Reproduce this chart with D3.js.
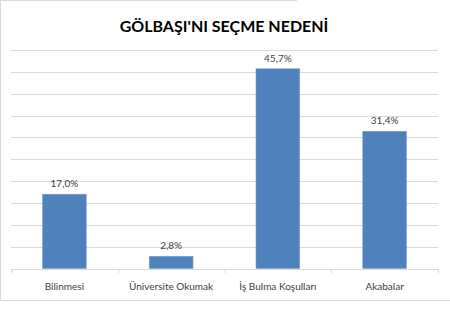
<!DOCTYPE html>
<meta charset="utf-8">
<html lang="tr">
<head>
<script src="https://d3js.org/d3.v7.min.js"></script>
<style>
  body { margin: 0; background: #fff; }
  text { font-family: Lato, "Liberation Sans", sans-serif; }
</style>
</head>
<body>
<div id="chart"></div>
<script>
// data
var categories = ["Bilinmesi", "Üniversite Okumak", "İş Bulma Koşulları", "Akabalar"];
var values = [17.0, 2.8, 45.7, 31.4];
var valueLabels = ["17,0%", "2,8%", "45,7%", "31,4%"];
var gridTicks = [0, 5, 10, 15, 20, 25, 30, 35, 40, 45, 50];

var width = 450, height = 315;
var margin = {top: 50, right: 12, bottom: 46.5, left: 11};

var svg = d3.select("#chart").append("svg")
  .attr("width", width)
  .attr("height", height);

// outer chart border (only partly visible in the original)
svg.append("line").attr("x1", 0.5).attr("x2", 0.5).attr("y1", 0).attr("y2", 300.5)
  .attr("stroke", "#d9d9d9");
svg.append("line").attr("x1", 0).attr("x2", 450).attr("y1", 300.5).attr("y2", 300.5)
  .attr("stroke", "#d9d9d9");
svg.append("line").attr("x1", 0).attr("x2", 297).attr("y1", 0.5).attr("y2", 0.5)
  .attr("stroke", "#d9d9d9");

var x = d3.scaleBand()
  .domain(categories)
  .range([margin.left, width - margin.right])
  .paddingInner(0.59)
  .paddingOuter(0.295);

var xAxisScale = d3.scaleBand()
  .domain(categories)
  .range([margin.left, width - margin.right]);

var y = d3.scaleLinear()
  .domain([0, 50])
  .range([height - margin.bottom, margin.top]);

// gridlines
svg.append("g").selectAll("line")
  .data(gridTicks)
  .enter().append("line")
  .attr("x1", margin.left)
  .attr("x2", width - margin.right)
  .attr("y1", function (d) { return Math.round(y(d)) + 0.5; })
  .attr("y2", function (d) { return Math.round(y(d)) + 0.5; })
  .attr("stroke", "#d9d9d9")
  .attr("stroke-width", 1);

// category tick marks
var tickX = categories.map(function (c) { return xAxisScale(c); }).concat([width - margin.right]);
svg.append("g").selectAll("line")
  .data(tickX)
  .enter().append("line")
  .attr("x1", function (d) { return Math.round(d) + 0.5; })
  .attr("x2", function (d) { return Math.round(d) + 0.5; })
  .attr("y1", Math.round(y(0)))
  .attr("y2", Math.round(y(0)) + 4)
  .attr("stroke", "#d9d9d9");

// bars
svg.append("g").selectAll("rect")
  .data(values)
  .enter().append("rect")
  .attr("x", function (d, i) { return x(categories[i]); })
  .attr("y", function (d) { return y(d); })
  .attr("width", x.bandwidth())
  .attr("height", function (d) { return y(0) - y(d); })
  .attr("fill", "#4f81bd")
  .attr("stroke", "#7ea3d1")
  .attr("stroke-width", 0.6);

// value labels
svg.append("g").selectAll("text")
  .data(values)
  .enter().append("text")
  .attr("x", function (d, i) { return x(categories[i]) + x.bandwidth() / 2; })
  .attr("y", function (d) { return y(d) - 7; })
  .attr("text-anchor", "middle")
  .attr("font-size", "10px")
  .attr("fill", "#404040")
  .text(function (d, i) { return valueLabels[i]; });

// category labels
svg.append("g").selectAll("text")
  .data(categories)
  .enter().append("text")
  .attr("x", function (d) { return xAxisScale(d) + xAxisScale.bandwidth() / 2; })
  .attr("y", 290)
  .attr("text-anchor", "middle")
  .attr("font-size", "10px")
  .attr("fill", "#404040")
  .text(function (d) { return d; });

// title
svg.append("text")
  .attr("x", 224)
  .attr("y", 32)
  .attr("text-anchor", "middle")
  .attr("font-size", "16px")
  .attr("font-weight", "bold")
  .attr("fill", "#000")
  .text("GÖLBAŞI'NI SEÇME NEDENİ");
</script>
</body>
</html>
